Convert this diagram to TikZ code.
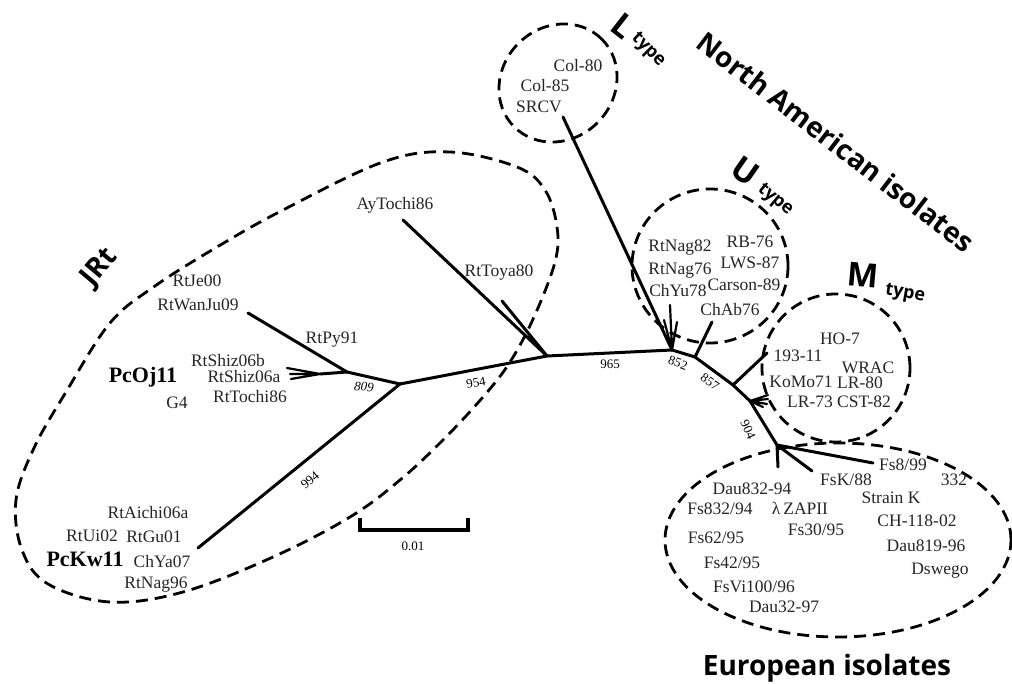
\documentclass[tikz,border=0pt]{standalone}
\usepackage{fontspec}
\setmainfont{Liberation Serif}
\newfontfamily\hdfont{Open Sans}
\begin{document}
\begin{tikzpicture}[x=1pt,y=-1pt,
 br/.style={line width=3pt, line cap=round, line join=round},
 thinbr/.style={line width=2.2pt, line cap=round},
 grp/.style={line width=2.8pt, dash pattern=on 12pt off 7pt},
 lab/.style={font=\fontsize{17.5}{20}\selectfont, inner sep=0pt, text=black!85},
 blab/.style={font=\fontsize{22}{26}\selectfont\bfseries, inner sep=0pt},
 num/.style={font=\fontsize{13}{15}\selectfont, inner sep=0pt},
 hd/.style={font=\hdfont\bfseries\fontsize{28}{32}\selectfont, inner sep=0pt},
 hdl/.style={font=\hdfont\bfseries\fontsize{33}{36}\selectfont, inner sep=0pt},
 ty/.style={font=\hdfont\bfseries\fontsize{18}{20}\selectfont, inner sep=0pt}
 ]
\useasboundingbox[fill=white] (0,0) rectangle (1012,684);

% ---- tree coordinates
\coordinate (twan) at (248,313);
\coordinate (n809) at (347,372);
\coordinate (fz) at (320,374);
\coordinate (s1) at (287,368);
\coordinate (s2) at (290,374);
\coordinate (s3) at (291,379);
\coordinate (n400) at (400,384);
\coordinate (tchya) at (198,548);
\coordinate (mid1) at (510,363);
\coordinate (n547) at (547,356);
\coordinate (tay) at (403,220);
\coordinate (ttoya) at (502,301);
\coordinate (n672) at (672,350);
\coordinate (tsrcv) at (563,117);
\coordinate (f1) at (670,305);
\coordinate (f2) at (664,320);
\coordinate (f3) at (677,322);
\coordinate (n695) at (695,357);
\coordinate (tchab) at (712,322);
\coordinate (n733) at (733,385);
\coordinate (t193) at (767,353);
\coordinate (n750) at (750,401);
\coordinate (m1) at (768,395);
\coordinate (m2) at (768,399);
\coordinate (m3) at (767,404);
\coordinate (m4) at (763,407);
\coordinate (n777) at (777,445);
\coordinate (e1) at (778,467);
\coordinate (e2) at (812,471);
\coordinate (e3) at (873,463);

% ---- branches
\draw[br] (twan) -- (n809) -- (fz);
\draw[thinbr] (fz) -- (s1) (fz) -- (s2) (fz) -- (s3);
\draw[br] (n809) -- (n400) -- (tchya);
\draw[br] (n400) -- (mid1) -- (n547) -- (n672);
\draw[br] (tay) -- (n547) -- (ttoya);
\draw[br] (tsrcv) -- (n672);
\draw[thinbr] (n672) -- (f1) (n672) -- (f2) (n672) -- (f3);
\draw[br] (n672) -- (n695) -- (n733) -- (n750) -- (n777);
\draw[br] (n695) -- (tchab);
\draw[br] (n733) -- (t193);
\draw[thinbr] (n750) -- (m1) (n750) -- (m2) (n750) -- (m3) (n750) -- (m4);
\draw[br] (n777) -- (e1) (n777) -- (e2) (n777) -- (e3);

% ---- scale bar
\coordinate (sb1) at (360,518);
\coordinate (sb2) at (360,530);
\coordinate (sb3) at (468,530);
\coordinate (sb4) at (468,518);
\draw[line width=4pt] (sb1) -- (sb2) -- (sb3) -- (sb4);
\node[num] (sbl) at (413,546) {0.01};

% ---- group outlines
\draw[grp] plot[smooth cycle, tension=0.6] coordinates {
 (450,152) (517,167) (545,190) (557,227) (555,262) (534,317) (510,362)
 (483,397) (443,440) (400,480) (350,517) (273,557) (183,592) (110,602)
 (48,584) (22,550) (16,500) (34,448) (66,392) (110,323)
 (155,286) (217,247) (283,210) (383,162)};
\draw[grp] (558,83) ellipse [x radius=62pt, y radius=56pt, rotate=45];
\draw[grp] (710,266) ellipse [x radius=78pt, y radius=77pt];
\draw[grp] (836,368) ellipse [x radius=74pt, y radius=74pt];
\draw[grp] (838,540) ellipse [x radius=173pt, y radius=97pt];

% ---- headings
\node[hd, rotate=50] (jrt) at (100,268) {JRt};
\node[hdl, rotate=-38] (lt) at (623,26) {L};
\node[ty, rotate=-45] (ltype) at (648,50) {type};
\node[hd, rotate=-37.5] (nai) at (836,142) {North American isolates};
\node[hdl, rotate=-35] (ut) at (745,171) {U};
\node[ty, rotate=-40] (utype) at (775,200) {type};
\node[hdl, rotate=-5] (mt) at (863,275) {M};
\node[ty, rotate=-10] (mtype) at (905,294) {type};
\node[hd] (eui) at (827,668) {European isolates};

% ---- support values
\node[num, font=\fontsize{13}{15}\selectfont\itshape, rotate=-5] (b809) at (364,387) {809};
\node[num, rotate=40] (b994) at (310,480) {994};
\node[num, rotate=10] (b954) at (476,383) {954};
\node[num] (b965) at (610,364) {965};
\node[num, rotate=-20] (b852) at (678,363) {852};
\node[num, rotate=-35] (b857) at (710,382) {857};
\node[num, rotate=-65] (b904) at (748,430) {904};

% ---- JRt labels
\node[lab] (l1) at (197,281) {RtJe00};
\node[lab] (l2) at (198,305) {RtWanJu09};
\node[lab] (l3) at (332,340) {RtPy91};
\node[lab] (l4) at (228,361) {RtShiz06b};
\node[lab] (l5) at (244,377) {RtShiz06a};
\node[lab] (l6) at (250,397) {RtTochi86};
\node[blab] (l7) at (143,377) {PcOj11};
\node[lab] (l8) at (177,403) {G4};
\node[lab] (l9) at (395,205) {AyTochi86};
\node[lab] (l10) at (499,273) {RtToya80};
\node[lab] (l11) at (148,513) {RtAichi06a};
\node[lab] (l12) at (92,536) {RtUi02};
\node[lab] (l13) at (154,537) {RtGu01};
\node[blab] (l14) at (85,559) {PcKw11};
\node[lab] (l15) at (162,562) {ChYa07};
\node[lab] (l16) at (156,585) {RtNag96};

% ---- L type
\node[lab] (c80) at (578,66) {Col-80};
\node[lab] (c85) at (545,86) {Col-85};
\node[lab] (srcv) at (539,107) {SRCV};

% ---- U type
\node[lab] (u1) at (680,248) {RtNag82};
\node[lab] (u2) at (680,271) {RtNag76};
\node[lab] (u3) at (678,291) {ChYu78};
\node[lab] (u4) at (750,242) {RB-76};
\node[lab] (u5) at (750,263) {LWS-87};
\node[lab] (u6) at (744,285) {Carson-89};
\node[lab] (u7) at (730,310) {ChAb76};

% ---- M type
\node[lab] (mm1) at (840,339) {HO-7};
\node[lab] (mm2) at (798,356) {193-11};
\node[lab] (mm3) at (868,368) {WRAC};
\node[lab] (mm4) at (801,382) {KoMo71};
\node[lab] (mm5) at (860,383) {LR-80};
\node[lab] (mm6) at (810,402) {LR-73};
\node[lab] (mm7) at (864,402) {CST-82};

% ---- European
\node[lab] (eu1) at (903,465) {Fs8/99};
\node[lab] (eu2) at (954,480) {332};
\node[lab] (eu3) at (846,480) {FsK/88};
\node[lab] (eu4) at (752,489) {Dau832-94};
\node[lab] (eu5) at (891,498) {Strain K};
\node[lab] (eu6) at (720,509) {Fs832/94};
\node[lab] (eu7) at (800,508) {λ\,ZAPII};
\node[lab] (eu8) at (917,521) {CH-118-02};
\node[lab] (eu9) at (816,530) {Fs30/95};
\node[lab] (eu10) at (716,538) {Fs62/95};
\node[lab] (eu11) at (926,546) {Dau819-96};
\node[lab] (eu12) at (732,563) {Fs42/95};
\node[lab] (eu13) at (940,571) {Dswego};
\node[lab] (eu14) at (754,587) {FsVi100/96};
\node[lab] (eu15) at (784,607) {Dau32-97};
\end{tikzpicture}
\end{document}
